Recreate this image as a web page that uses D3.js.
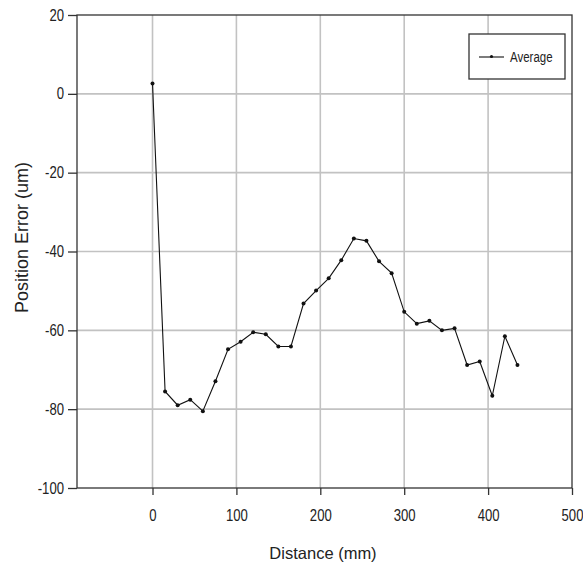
<!DOCTYPE html>
<html>
<head>
<meta charset="utf-8">
<script src="https://cdn.jsdelivr.net/npm/d3@7"></script>
<style>
  body { margin: 0; background: #fff; }
  text { font-family: "Liberation Sans", Arial, sans-serif; fill: #222; }
</style>
</head>
<body>
<svg id="chart" width="583" height="567"></svg>
<script>
// distance along travel (mm)
const distance = [0, 15, 30, 45, 60, 75, 90, 105, 120, 135, 150, 165, 180, 195, 210,
  225, 240, 255, 270, 285, 300, 315, 330, 345, 360, 375, 390, 405, 420, 435];
// average position error (um)
const average = [2.6, -75.5, -79.0, -77.6, -80.5, -72.9, -64.8, -62.9, -60.5, -61.0,
  -64.1, -64.1, -53.2, -49.9, -46.8, -42.2, -36.7, -37.3, -42.5, -45.5,
  -55.3, -58.3, -57.6, -60.0, -59.5, -68.8, -67.9, -76.6, -61.5, -68.8];
const xTicks = [0, 100, 200, 300, 400, 500];
const yTicks = [20, 0, -20, -40, -60, -80, -100];

// plot frame (window.top is taken, so prefix these)
const plotLeft = 77, plotRight = 572, plotTop = 15, plotBottom = 488;
// no narrow font installed, so squeeze regular Liberation Sans
const squeeze = 0.82;

const svg = d3.select('#chart');

const x = d3.scaleLinear().domain([-90, 500]).range([plotLeft, plotRight]);
const y = d3.scaleLinear().domain([-100, 20]).range([plotBottom, plotTop]);

// grid
svg.append('g')
  .selectAll('line')
  .data(xTicks.filter(d => d > -90 && d < 500))
  .join('line')
  .attr('x1', d => x(d)).attr('x2', d => x(d))
  .attr('y1', plotTop).attr('y2', plotBottom)
  .attr('stroke', '#c2c2c2').attr('stroke-width', 1.6);

svg.append('g')
  .selectAll('line')
  .data(yTicks.filter(d => d > -100 && d < 20))
  .join('line')
  .attr('x1', plotLeft).attr('x2', plotRight)
  .attr('y1', d => y(d)).attr('y2', d => y(d))
  .attr('stroke', '#c2c2c2').attr('stroke-width', 1.6);

// frame
svg.append('rect')
  .attr('x', plotLeft).attr('y', plotTop)
  .attr('width', plotRight - plotLeft).attr('height', plotBottom - plotTop)
  .attr('fill', 'none').attr('stroke', '#333').attr('stroke-width', 1.3);

// axes - plain hyphen for negatives like the original
const fmt = d => String(d);
const xAxis = svg.append('g')
  .attr('transform', `translate(0,${plotBottom})`)
  .call(d3.axisBottom(x).tickValues(xTicks).tickFormat(fmt).tickSize(7).tickSizeOuter(0).tickPadding(15));
const yAxis = svg.append('g')
  .attr('transform', `translate(${plotLeft},0)`)
  .call(d3.axisLeft(y).tickValues(yTicks).tickFormat(fmt).tickSize(9).tickSizeOuter(0).tickPadding(4));

[xAxis, yAxis].forEach(g => {
  g.select('.domain').remove();
  g.selectAll('line').attr('stroke', '#333').attr('stroke-width', 1.3);
  g.selectAll('text')
    .attr('font-size', 16).attr('fill', '#222')
    .attr('transform', `scale(${squeeze},1)`);
});
// keep the right edge of y labels where d3 put it after squeezing
yAxis.selectAll('text').attr('x', -13 / squeeze);

// series
const line = d3.line()
  .x((d, i) => x(distance[i]))
  .y(d => y(d));

svg.append('path')
  .datum(average)
  .attr('d', line)
  .attr('fill', 'none')
  .attr('stroke', '#111')
  .attr('stroke-width', 1.1);

svg.append('g')
  .selectAll('circle')
  .data(average)
  .join('circle')
  .attr('cx', (d, i) => x(distance[i]))
  .attr('cy', d => y(d))
  .attr('r', 2)
  .attr('fill', '#111');

// legend
const legend = svg.append('g');
legend.append('rect')
  .attr('x', 469).attr('y', 34).attr('width', 96).attr('height', 45)
  .attr('fill', '#fff').attr('stroke', '#333').attr('stroke-width', 1.3);
legend.append('line')
  .attr('x1', 479).attr('x2', 504).attr('y1', 57).attr('y2', 57)
  .attr('stroke', '#111').attr('stroke-width', 1.1);
legend.append('circle')
  .attr('cx', 491.5).attr('cy', 56.5).attr('r', 1.6).attr('fill', '#111');
legend.append('text')
  .attr('transform', `translate(510,61.5) scale(${squeeze},1)`)
  .attr('font-size', 14)
  .text('Average');

// axis titles
svg.append('text')
  .attr('x', 323).attr('y', 559)
  .attr('text-anchor', 'middle')
  .attr('font-size', 16.5)
  .text('Distance (mm)');

svg.append('text')
  .attr('transform', 'translate(27.5,237.5) rotate(-90)')
  .attr('text-anchor', 'middle')
  .attr('font-size', 18)
  .text('Position Error (um)');
</script>
</body>
</html>
